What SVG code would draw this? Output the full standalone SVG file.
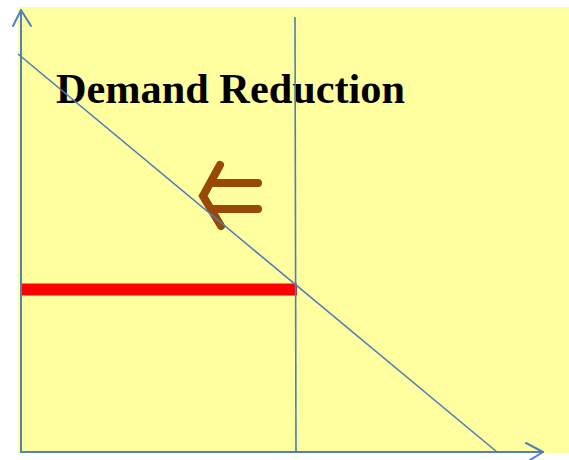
<svg xmlns="http://www.w3.org/2000/svg" width="569" height="460" viewBox="0 0 569 460">
<style>
.ax{stroke:#4F81BD;stroke-width:2;fill:none;stroke-linecap:round;stroke-linejoin:round}
.ln{stroke:#4A7EBB;stroke-width:1.6;fill:none}
.br{stroke:#984807;stroke-width:8;fill:none;stroke-linecap:round;stroke-linejoin:miter}
.t{font-family:"Liberation Serif","Times New Roman",serif;font-weight:bold;font-size:42.4px;fill:#000}
</style>
<rect x="18" y="7" width="551" height="446" fill="#FFFF9F"/>
<g id="title"><text class="t" x="56" y="103" textLength="349" lengthAdjust="spacingAndGlyphs">Demand Reduction</text></g>
<g id="arrow-left"><polyline class="br" points="220,165 203,196 221,226"/><line class="br" x1="213" y1="183" x2="258" y2="183"/><line class="br" x1="213" y1="209" x2="258" y2="209"/></g>
<g id="price-line"><line x1="22" y1="289.5" x2="297" y2="289.5" stroke="#FF0000" stroke-width="12"/></g>
<g id="connectors">
<line class="ax" x1="21" y1="452" x2="21" y2="10"/>
<polyline class="ax" points="13,26 21,10 31,26"/>
<line class="ax" x1="21" y1="452" x2="543" y2="452"/>
<polyline class="ax" points="526,443 543,452 530,460"/>
<line class="ln" x1="18" y1="54" x2="497" y2="452"/>
<line class="ln" x1="295" y1="17" x2="296" y2="452"/>
</g>
</svg>
